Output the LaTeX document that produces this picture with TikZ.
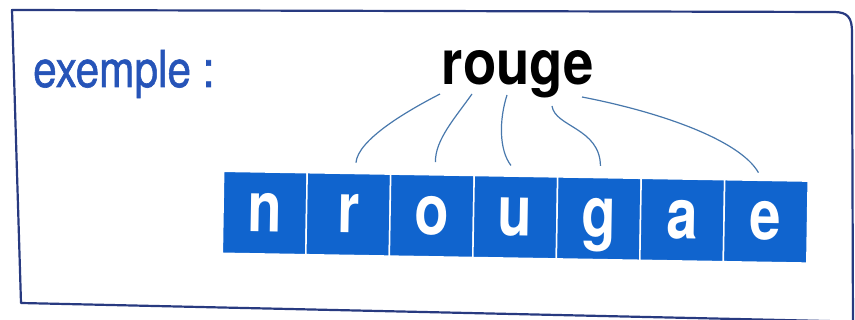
\documentclass[tikz,border=0pt]{standalone}
\usepackage{fontspec}
\setmainfont{TeX Gyre Heros}
\newfontfamily\exfont[FakeBold=1.2]{TeX Gyre Heros}
\definecolor{boxblue}{RGB}{16,100,206}
\definecolor{exblue}{RGB}{38,84,184}
\definecolor{framecol}{RGB}{40,58,128}
\definecolor{linkcol}{RGB}{72,120,172}
\tikzset{
  lbox/.style={rectangle, fill=boxblue, draw=white, line width=1.5pt,
    minimum width=83.5pt, minimum height=82pt, inner sep=0pt, text=white,
    rotate=-0.96,
    font=\fontsize{70}{70}\selectfont\bfseries, text height=37pt, text depth=0pt},
  link/.style={draw=linkcol, line width=1.2pt},
  frameline/.style={draw=framecol, line width=2.2pt, line join=round}
}
\begin{document}
\begin{tikzpicture}[x=1pt,y=-1pt]
\useasboundingbox (0,0) rectangle (855,320);
\clip (0,0) rectangle (855,320);
% frame
\draw[frameline] (870,322) -- (21,303) -- (12,10) -- (834,12)
  .. controls (848,12) and (852,18) .. (852,32) -- (853,330);
% title texts
\node[anchor=base west, inner sep=0pt, text=exblue,
  font=\fontsize{51}{51}\exfont] (ex) at (33,87) {\scalebox{0.83}[1]{exemple :}};
\node[anchor=base, inner sep=0pt, text=black,
  font=\fontsize{62}{62}\selectfont\bfseries] (w) at (518,85) {\scalebox{0.88}[1]{rouge}};
% boxes
\foreach \L [count=\i from 0] in {n,r,o,u,g,a,e}{
  \node[lbox] (b\i) at ({264.75+83.5*\i},{213+1.4*\i}) {\scalebox{0.8}[1]{\L}};
}
% connector ends
\coordinate (s1) at (440,94);
\coordinate (s2) at (472,94);
\coordinate (s3) at (507,95);
\coordinate (s4) at (552,106);
\coordinate (s5) at (582,97);
\coordinate (t1) at ([shift={(7,-10)}]b1.north);
\coordinate (t2) at ([shift={(3,-12)}]b2.north);
\coordinate (t3) at ([shift={(-5,-10)}]b3.north);
\coordinate (t4) at ([shift={(1,-11)}]b4.north);
\coordinate (t5) at ([shift={(-8,-7)}]b6.north);
\draw[link] (s1) .. controls (405,112) and (358,140) .. (t1);
\draw[link] (s2) .. controls (455,118) and (435,140) .. (t2);
\draw[link] (s3) .. controls (499,120) and (499,150) .. (t3);
\draw[link] (s4) .. controls (555,127) and (600,128) .. (t4);
\draw[link] (s5) .. controls (660,112) and (740,140) .. (t5);
\end{tikzpicture}
\end{document}
